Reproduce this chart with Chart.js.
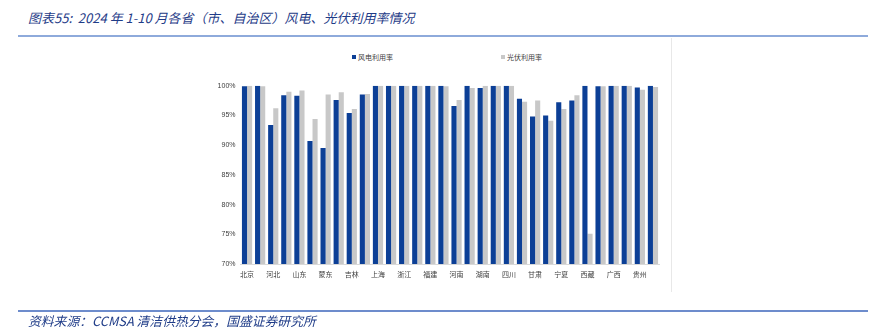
<!DOCTYPE html>
<html>
<head>
<meta charset="utf-8">
<script src="https://cdn.jsdelivr.net/npm/chart.js@4.4.1/dist/chart.umd.min.js"></script>
<style>
  html, body { margin: 0; padding: 0; background: #ffffff; }
  #wrap { position: relative; width: 879px; height: 331px; overflow: hidden; background: #fff; }
  #c { position: absolute; left: 0; top: 0; }
  .title { position: absolute; left: 28px; top: 9px; font-family: "Noto Sans CJK SC", sans-serif; font-style: italic; font-size: 13px; color: #1f3c88; white-space: nowrap; line-height: 18px; }
  .src { position: absolute; left: 28px; top: 312px; font-family: "Noto Sans CJK SC", sans-serif; font-style: italic; font-size: 12.8px; color: #1f3c88; white-space: nowrap; line-height: 17px; }
  .hline1 { position: absolute; left: 18px; top: 35px; width: 850px; height: 1.5px; background: #8eaadb; }
  .hline2 { position: absolute; left: 18px; top: 310px; width: 850px; height: 1.5px; background: #6d8ccc; }
  .vborder { position: absolute; left: 671px; top: 38px; width: 1px; height: 254px; background: #e8e8e8; }
  .leg { position: absolute; top: 52px; font-family: "Noto Sans CJK SC", sans-serif; font-size: 7px; color: #404040; white-space: nowrap; line-height: 10px; }
  .leg i { display: inline-block; width: 4px; height: 4px; margin-right: 2px; vertical-align: 1px; }
</style>
</head>
<body>
<div id="wrap">
  <div class="title">图表55:&nbsp; 2024 年 1-10 月各省（市、自治区）风电、光伏利用率情况</div>
  <div class="hline1"></div>
  <div class="vborder"></div>
  <div class="leg" style="left:352px;"><i style="background:#0c3f96"></i>风电利用率</div>
  <div class="leg" style="left:501px;"><i style="background:#c8c8c8"></i>光伏利用率</div>
  <canvas id="c" width="879" height="331"></canvas>
  <div class="hline2"></div>
  <div class="src">资料来源：CCMSA 清洁供热分会，国盛证券研究所</div>
</div>
<script>
const provinces = ["北京","天津","河北","山西","山东","蒙西","蒙东","辽宁","吉林","黑龙江","上海","江苏","浙江","安徽","福建","江西","河南","湖北","湖南","重庆","四川","陕西","甘肃","青海","宁夏","新疆","西藏","广东","广西","云南","贵州","海南"];
const windRate  = [99.9,100,93.4,98.4,98.3,90.7,89.5,97.6,95.4,98.5,100,100,100,100,100,100,96.6,100,99.6,100,100,97.8,94.8,95.0,97.2,97.5,100,99.9,100,100,99.7,100];
const solarRate = [100,99.9,96.2,99.0,99.2,94.4,98.5,98.9,96.1,98.6,100,100,100,100,100,99.9,97.6,99.6,100,100,100,97.3,97.5,94.1,96.1,98.4,75.1,99.9,100,100,99.3,99.8];
const yTicks = [70,75,80,85,90,95,100];

new Chart(document.getElementById('c'), {
  type: 'bar',
  data: {
    labels: provinces,
    datasets: [
      { label: '风电利用率', data: windRate, backgroundColor: '#0c3f96', borderWidth: 0 },
      { label: '光伏利用率', data: solarRate, backgroundColor: '#c8c8c8', borderWidth: 0 }
    ]
  },
  options: {
    responsive: false,
    animation: false,
    devicePixelRatio: 1,
    layout: { padding: { left: 0, right: 219.5, top: 85.7, bottom: 47 } },
    datasets: { bar: { categoryPercentage: 0.78, barPercentage: 1.0 } },
    plugins: { legend: { display: false }, tooltip: { enabled: false } },
    scales: {
      x: {
        grid: { display: false, drawTicks: false },
        border: { display: true, color: '#d9d9d9', width: 1 },
        ticks: {
          autoSkip: false, maxRotation: 0, minRotation: 0, padding: 6,
          color: '#404040',
          font: { family: '"Noto Sans CJK SC", sans-serif', size: 7 },
          callback: function(v, i) { return i % 2 === 0 ? provinces[i] : ''; }
        },
        afterFit: function(s) { s.height = 20; }
      },
      y: {
        min: yTicks[0], max: yTicks[yTicks.length - 1],
        afterBuildTicks: function(s) { s.ticks = yTicks.map(v => ({ value: v })); },
        grid: { display: false, drawTicks: false },
        border: { display: false },
        ticks: {
          padding: 5,
          color: '#404040',
          font: { family: '"Liberation Sans", Arial, sans-serif', size: 7 },
          callback: function(v) { return v + '%'; }
        },
        afterFit: function(s) { s.width = 240.5; }
      }
    }
  }
});
</script>
</body>
</html>
